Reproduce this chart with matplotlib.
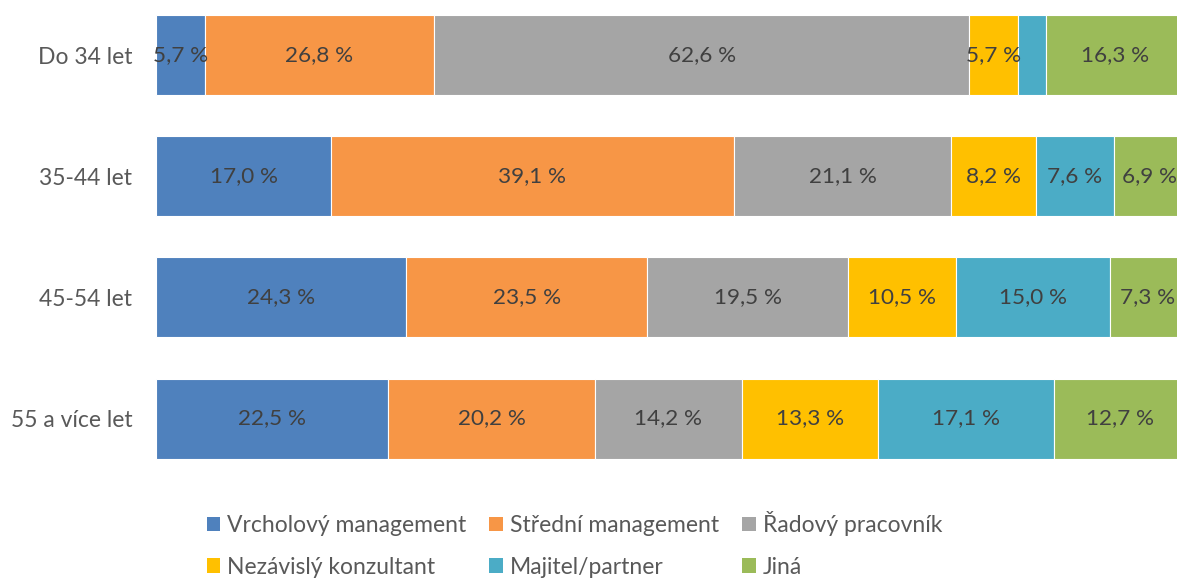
import numpy as np
import matplotlib.pyplot as plt
from matplotlib.patches import Patch

plt.rcParams["font.family"] = ["Lato", "DejaVu Sans"]

categories = ["Do 34 let", "35-44 let", "45-54 let", "55 a více let"]
series = ["Vrcholový management", "Střední management", "Řadový pracovník",
          "Nezávislý konzultant", "Majitel/partner", "Jiná"]
colors = ["#4F81BD", "#F79646", "#A5A5A5", "#FFC000", "#4BACC6", "#9BBB59"]

# values per series, one entry per age group (top to bottom)
vrcholovy = [5.7, 17.0, 24.3, 22.5]
stredni = [26.8, 39.1, 23.5, 20.2]
radovy = [62.6, 21.1, 19.5, 14.2]
nezavisly = [5.7, 8.2, 10.5, 13.3]
majitel = [3.2, 7.6, 15.0, 17.1]
jina = [16.3, 6.9, 7.3, 12.7]

values = np.array([vrcholovy, stredni, radovy, nezavisly, majitel, jina])
shares = values / values.sum(axis=0) * 100  # 100 % stacked

fig = plt.figure(figsize=(11.77, 5.79), dpi=100)
ax = fig.add_axes([156 / 1177, 0.183, 1029 / 1177, 0.816])

y = np.arange(len(categories))
left = np.zeros(len(categories))
for i, name in enumerate(series):
    ax.barh(y, shares[i], left=left, height=0.66, color=colors[i],
            edgecolor="white", linewidth=0.8, label=name)
    for j in range(len(categories)):
        if values[i, j] >= 4:
            ax.text(left[j] + shares[i, j] / 2, y[j],
                    f"{values[i, j]:.1f} %".replace(".", ","),
                    ha="center", va="center", fontsize=16.2, color="#404040")
    left += shares[i]

ax.set_xlim(0, 100)
ax.set_ylim(3.45, -0.45)
ax.set_yticks(y)
ax.set_yticklabels(categories, fontsize=16.5, color="#595959")
ax.tick_params(axis="y", length=0, pad=17)
ax.set_xticks([])
for s in ax.spines.values():
    s.set_visible(False)

order = [0, 3, 1, 4, 2, 5]
handles = [Patch(facecolor=colors[k], label=series[k]) for k in order]
leg = fig.legend(handles=handles, ncol=3, loc="center", bbox_to_anchor=(0.488, 0.06),
                 frameon=False, fontsize=16.5, handlelength=0.6, handleheight=0.6,
                 handletextpad=0.3, columnspacing=1.0, labelspacing=0.9)
for t in leg.get_texts():
    t.set_color("#595959")

fig.savefig("out.png", dpi=100)
